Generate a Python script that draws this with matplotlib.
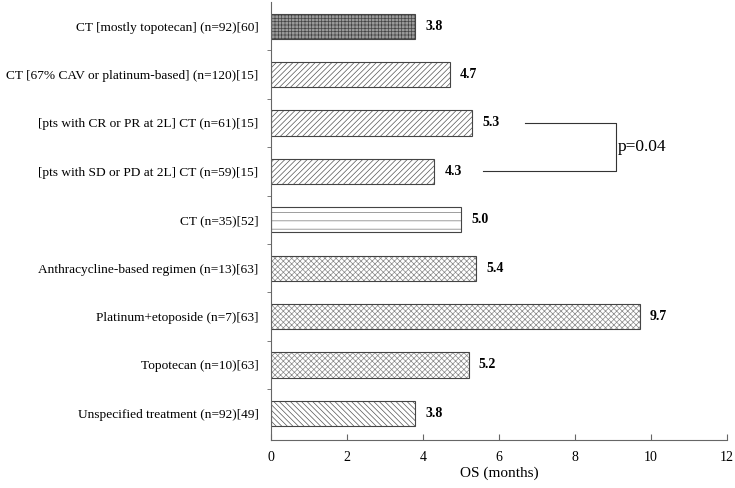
import matplotlib
matplotlib.use("Agg")
import matplotlib.pyplot as plt
from matplotlib.ticker import FixedLocator

categories = [
    "CT [mostly topotecan] (n=92)[60]",
    "CT [67% CAV or platinum-based] (n=120)[15]",
    "[pts with CR or PR at 2L] CT (n=61)[15]",
    "[pts with SD or PD at 2L] CT (n=59)[15]",
    "CT (n=35)[52]",
    "Anthracycline-based regimen (n=13)[63]",
    "Platinum+etoposide (n=7)[63]",
    "Topotecan (n=10)[63]",
    "Unspecified treatment (n=92)[49]",
]
os_months = [3.8, 4.7, 5.3, 4.3, 5.0, 5.4, 9.7, 5.2, 3.8]
hatches = ["+++++", "//////", "//////", "//////", "--", "xxxxxx", "xxxxxx", "xxxxxx", "\\\\\\\\\\\\"]
facecolors = ["#9a9a9a", "white", "white", "white", "white", "white", "white", "white", "white"]
edgecolors = ["#444444", "#555555", "#555555", "#555555", "#777777", "#888888", "#888888", "#888888", "#555555"]
x_ticks = [0, 2, 4, 6, 8, 10, 12]
p_text = "p=0.04"

plt.rcParams["font.family"] = ["Liberation Serif", "DejaVu Serif"]
plt.rcParams["hatch.linewidth"] = 0.5

fig = plt.figure(figsize=(7.35, 4.88), dpi=100)
ax = fig.add_axes([0.3687, 0.0984, 0.6203, 0.8976])

n = len(categories)
ypos = list(range(n))[::-1]
for y, v, h, fc, ec in zip(ypos, os_months, hatches, facecolors, edgecolors):
    ax.barh(y, v, height=0.52, color=fc, edgecolor=ec, linewidth=0.0, hatch=h)
    ax.barh(y, v, height=0.52, color="none", edgecolor="#444444", linewidth=0.8)
    ax.text(v + 0.27, y, f"{v:.1f}", va="center", ha="left", fontsize=10, fontweight="bold")

ax.set_xlim(0, 12)
ax.set_ylim(-0.55, n - 0.5)
ax.set_xticks(x_ticks)
ax.set_xticklabels([str(t) for t in x_ticks], fontsize=10)
ax.set_yticks(ypos)
ax.set_yticklabels(categories, fontsize=9.6)
ax.tick_params(axis="y", which="major", length=0, pad=9)
ax.yaxis.set_minor_locator(FixedLocator([i + 0.5 for i in range(n - 1)]))
ax.tick_params(axis="y", which="minor", length=3, direction="out", color="#666666")
ax.tick_params(axis="x", which="major", direction="in", length=4, color="#666666", pad=8)
ax.set_xlabel("OS (months)", fontsize=11, labelpad=2)
for s in ["top", "right"]:
    ax.spines[s].set_visible(False)
for s in ["left", "bottom"]:
    ax.spines[s].set_color("#666666")
    ax.spines[s].set_linewidth(0.8)

# p-value bracket between bars 3 and 4
i1, i2 = 2, 3
y1, y2 = ypos[i1], ypos[i2]
xb = 9.08
ax.plot([os_months[i1] + 1.38, xb, xb, os_months[i2] + 1.28], [y1, y1, y2, y2],
        color="#333333", linewidth=0.8)
ax.text(xb + 0.05, (y1 + y2) / 2, p_text, va="center", ha="left", fontsize=12.5)

fig.savefig("out.png", dpi=100)
